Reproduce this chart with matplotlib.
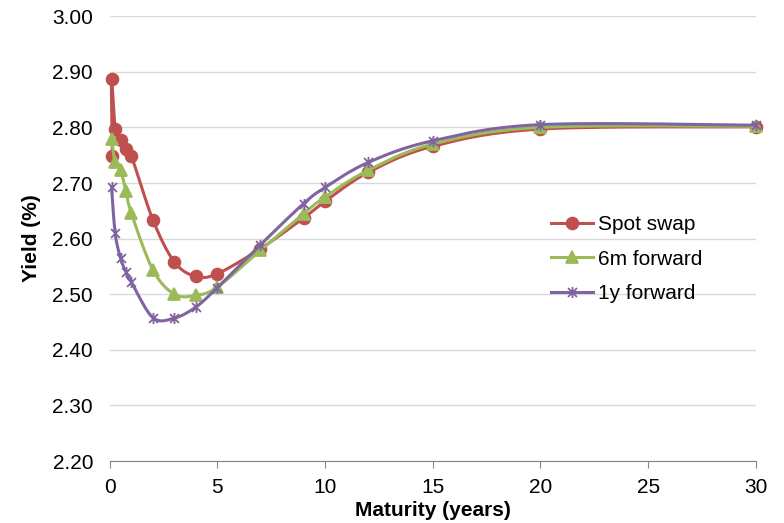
import matplotlib.pyplot as plt
import numpy as np
from matplotlib.path import Path

# data
maturity = [1/12, 0.25, 0.5, 0.75, 1, 2, 3, 4, 5, 7, 9, 10, 12, 15, 20, 30]
spot_maturity = [0.12] + maturity
spot_swap = [2.748, 2.887, 2.797, 2.777, 2.762, 2.749, 2.634, 2.558, 2.532, 2.537,
             2.582, 2.637, 2.667, 2.719, 2.766, 2.797, 2.801]
fwd_6m = [2.780, 2.737, 2.723, 2.686, 2.646, 2.544, 2.500, 2.498, 2.513,
          2.579, 2.645, 2.675, 2.723, 2.770, 2.800, 2.802]
fwd_1y = [2.693, 2.610, 2.565, 2.540, 2.522, 2.458, 2.457, 2.477, 2.512,
          2.589, 2.663, 2.692, 2.737, 2.776, 2.805, 2.804]
yticks = [2.2, 2.3, 2.4, 2.5, 2.6, 2.7, 2.8, 2.9, 3.0]
xticks = [0, 5, 10, 15, 20, 25, 30]


def smooth(xs, ys, n=30):
    # Excel-like smoothed line: cubic bezier through points, tension 1/6
    xs = np.asarray(xs, float)
    ys = np.asarray(ys, float)
    # work in pixel-ish scale so the curve shape is not distorted
    sx, sy = 646 / 30.0, 445 / 0.8
    P = np.column_stack([xs * sx, ys * sy])
    out = []
    t = np.linspace(0, 1, n)[:, None]
    for i in range(len(P) - 1):
        p0 = P[max(i - 1, 0)]
        p1 = P[i]
        p2 = P[i + 1]
        p3 = P[min(i + 2, len(P) - 1)]
        c1 = p1 + (p2 - p0) / 6
        c2 = p2 - (p3 - p1) / 6
        seg = ((1 - t) ** 3) * p1 + 3 * ((1 - t) ** 2) * t * c1 + 3 * (1 - t) * t ** 2 * c2 + t ** 3 * p2
        out.append(seg)
    out = np.vstack(out)
    return out[:, 0] / sx, out[:, 1] / sy


star = Path([(-1, -1), (1, 1), (-1, 1), (1, -1), (0, -1.25), (0, 1.25)],
            [Path.MOVETO, Path.LINETO, Path.MOVETO, Path.LINETO, Path.MOVETO, Path.LINETO])

red = '#C0504D'
green = '#9BBB59'
purple = '#8064A2'

plt.rcParams['font.family'] = ['Liberation Sans', 'DejaVu Sans']
fig = plt.figure(figsize=(7.84, 5.23), dpi=100)
ax = fig.add_axes([0.140, 0.1185, 0.824, 0.8505])

series = [
    (spot_maturity, spot_swap, red, 'o', 8.5, 'Spot swap'),
    (maturity, fwd_6m, green, '^', 8.5, '6m forward'),
    (maturity, fwd_1y, purple, star, 8, '1y forward'),
]
for i, (xs, ys, c, m, ms, lab) in enumerate(series):
    sxs, sys_ = smooth(xs, ys)
    ax.plot(sxs, sys_, color=c, lw=2.2, zorder=3 + i, clip_on=False)
    ax.plot(xs, ys, linestyle='none', marker=m, ms=ms, color=c, mec=c,
            mew=1.3, zorder=3 + i, clip_on=False)
    ax.plot([], [], color=c, lw=2.2, marker=m, ms=ms, mec=c, mew=1.3, label=lab)

ax.set_xlim(0, 30)
ax.set_ylim(2.2, 3.0)
ax.set_xticks(xticks)
ax.set_yticks(yticks)
ax.set_yticklabels(['%.2f' % v for v in yticks])
ax.yaxis.grid(True, color='#D9D9D9', lw=1)
ax.set_axisbelow(True)
for s in ['left', 'right', 'top']:
    ax.spines[s].set_visible(False)
ax.spines['bottom'].set_color('#868686')
ax.tick_params(axis='y', length=0, labelsize=15, pad=12)
ax.tick_params(axis='x', length=5, color='#868686', labelsize=15, pad=7)
ax.set_xlabel('Maturity (years)', fontsize=15, fontweight='bold', labelpad=3)
ax.set_ylabel('Yield (%)', fontsize=15, fontweight='bold', labelpad=8)

ax.legend(loc='upper left', bbox_to_anchor=(0.6535, 0.595), frameon=False,
          fontsize=15, handlelength=2.05, labelspacing=0.75, handletextpad=0.2)

fig.savefig('out.png', dpi=100)
